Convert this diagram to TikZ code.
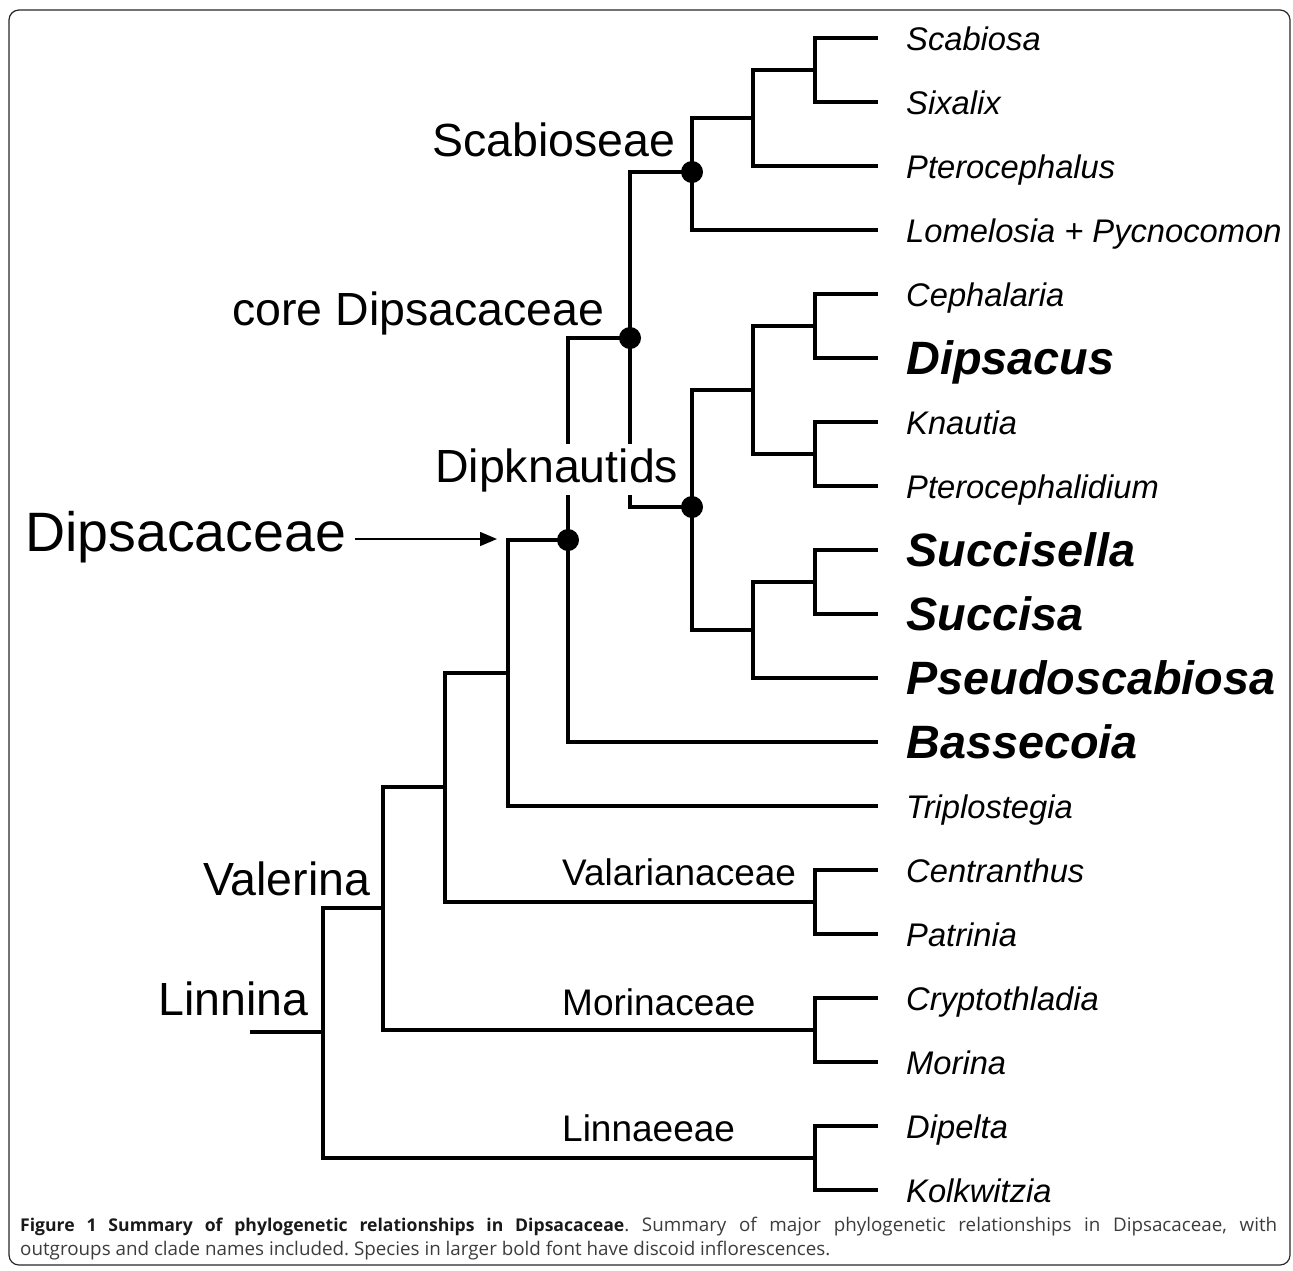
\documentclass[tikz,border=0pt]{standalone}
\usepackage{fontspec}
\setmainfont{Liberation Sans}
\newfontfamily\capfont{Open Sans}
\usetikzlibrary{arrows.meta}
\definecolor{capgray}{HTML}{3C3C3C}
\frenchspacing
\tikzset{
  x=1pt, y=-1pt,
  branch/.style={line width=4.5pt, line join=miter},
  leafit/.style={anchor=base west, inner sep=0pt, font=\fontsize{32.7}{36}\selectfont\itshape},
  leafbf/.style={anchor=base west, inner sep=0pt, font=\fontsize{46.8}{50}\selectfont\bfseries\itshape},
  cladebig/.style={anchor=base west, inner sep=0pt, font=\fontsize{46.5}{50}\selectfont},
  cladesmall/.style={anchor=base west, inner sep=0pt, font=\fontsize{37}{40}\selectfont},
  dotmark/.style={circle, fill=black, inner sep=0pt, minimum size=22pt},
}
\begin{document}
\begin{tikzpicture}
\useasboundingbox (0,0) rectangle (1293,1270);
\draw[line width=1.2pt, color=black!85, rounded corners=10pt] (9,10) rectangle (1290,1265);

% leaf tips
\foreach \n/\y in {Sca/38,Six/102,Pte/166,Lom/230,Cep/294,Dip/358,Kna/422,Ptd/486,Suc/550,Sus/614,Pse/678,Bas/742,Tri/806,Cen/870,Pat/934,Cry/998,Mor/1062,Dpl/1126,Kol/1190}
  \coordinate (t\n) at (878,\y);

% internal nodes
\coordinate (nSS) at (815,70);
\coordinate (nPt) at (753,118);
\coordinate (nSc) at (692,172);
\coordinate (nCD) at (815,326);
\coordinate (nKP) at (815,454);
\coordinate (nCK) at (753,390);
\coordinate (nSu) at (815,582);
\coordinate (nSP) at (753,630);
\coordinate (nDk) at (692,507);
\coordinate (nCore) at (630,338);
\coordinate (nDips) at (568,540);
\coordinate (nTr) at (508,673);
\coordinate (nVal) at (445,787);
\coordinate (nValF) at (815,902);
\coordinate (nVr) at (383,908);
\coordinate (nMor) at (815,1030);
\coordinate (nLi) at (323,1032);
\coordinate (nLin) at (815,1158);
\coordinate (root) at (250,1032);

% branches
\draw[branch] (nSS) |- (tSca);
\draw[branch] (nSS) |- (tSix);
\draw[branch] (nPt) |- (nSS);
\draw[branch] (nPt) |- (tPte);
\draw[branch] (nSc) |- (nPt);
\draw[branch] (nSc) |- (tLom);
\draw[branch] (nCD) |- (tCep);
\draw[branch] (nCD) |- (tDip);
\draw[branch] (nKP) |- (tKna);
\draw[branch] (nKP) |- (tPtd);
\draw[branch] (nCK) |- (nCD);
\draw[branch] (nCK) |- (nKP);
\draw[branch] (nSu) |- (tSuc);
\draw[branch] (nSu) |- (tSus);
\draw[branch] (nSP) |- (nSu);
\draw[branch] (nSP) |- (tPse);
\draw[branch] (nDk) |- (nCK);
\draw[branch] (nDk) |- (nSP);
\draw[branch] (nCore) |- (nSc);
\draw[branch] (nCore) |- (nDk);
\draw[branch] (nDips) |- (nCore);
\draw[branch] (nDips) |- (tBas);
\draw[branch] (nTr) |- (nDips);
\draw[branch] (nTr) |- (tTri);
\draw[branch] (nValF) |- (tCen);
\draw[branch] (nValF) |- (tPat);
\draw[branch] (nVal) |- (nTr);
\draw[branch] (nVal) |- (nValF);
\draw[branch] (nMor) |- (tCry);
\draw[branch] (nMor) |- (tMor);
\draw[branch] (nVr) |- (nVal);
\draw[branch] (nVr) |- (nMor);
\draw[branch] (nLin) |- (tDpl);
\draw[branch] (nLin) |- (tKol);
\draw[branch] (nLi) |- (nVr);
\draw[branch] (nLi) |- (nLin);
\draw[branch] (root) -- (nLi);

% dots
\node[dotmark] (dSc) at (nSc) {};
\node[dotmark] (dCore) at (nCore) {};
\node[dotmark] (dDk) at (nDk) {};
\node[dotmark] (dDips) at (nDips) {};

% leaf labels
\node[leafit] (lSca) at (906,50) {Scabiosa};
\node[leafit] (lSix) at (906,114) {Sixalix};
\node[leafit] (lPte) at (906,178) {Pterocephalus};
\node[leafit] (lLom) at (906,242) {Lomelosia + Pycnocomon};
\node[leafit] (lCep) at (906,306) {Cephalaria};
\node[leafbf] (lDip) at (906,374) {Dipsacus};
\node[leafit] (lKna) at (906,434) {Knautia};
\node[leafit] (lPtd) at (906,498) {Pterocephalidium};
\node[leafbf] (lSuc) at (906,566) {Succisella};
\node[leafbf] (lSus) at (906,630) {Succisa};
\node[leafbf] (lPse) at (906,694) {Pseudoscabiosa};
\node[leafbf] (lBas) at (906,758) {Bassecoia};
\node[leafit] (lTri) at (906,818) {Triplostegia};
\node[leafit] (lCen) at (906,882) {Centranthus};
\node[leafit] (lPat) at (906,946) {Patrinia};
\node[leafit] (lCry) at (906,1010) {Cryptothladia};
\node[leafit] (lMor) at (906,1074) {Morina};
\node[leafit] (lDpl) at (906,1138) {Dipelta};
\node[leafit] (lKol) at (906,1202) {Kolkwitzia};

% clade labels
\node[cladebig] (cSc) at (432,156) {Scabioseae};
\node[cladebig] (cCore) at (232,325) {core Dipsacaceae};
\node[cladebig, fill=white, text height=38pt, text depth=13pt] (cDk) at (435,482) {Dipknautids};
\node[anchor=base west, inner sep=0pt, font=\fontsize{55.5}{60}\selectfont] (cDips) at (25,551) {Dipsacaceae};
\node[cladebig] (cVr) at (203,895) {Valerina};
\node[cladebig] (cLi) at (158,1015) {Linnina};
\node[cladesmall] (cVal) at (562,885) {Valarianaceae};
\node[cladesmall] (cMor) at (562,1015) {Morinaceae};
\node[cladesmall] (cLin) at (562,1141) {Linnaeeae};

% arrow
\coordinate (aS) at (355,539);
\coordinate (aE) at (497,539);
\draw[line width=1.5pt, -{Triangle[length=17pt,width=14pt]}] (aS) -- (aE);

% caption
\node[anchor=base west, inner sep=0pt, text width=1257pt, align=justify,
      font=\capfont\fontsize{18.8}{24}\selectfont, text=capgray] (cap) at (20,1231)
  {{\fontsize{17.6}{24}\selectfont\bfseries\color{black!90}Figure 1 Summary of phylogenetic relationships in Dipsacaceae}. Summary of major phylogenetic relationships in Dipsacaceae, with\linebreak outgroups and clade names included. Species in larger bold font have discoid inflorescences.};
\end{tikzpicture}
\end{document}
